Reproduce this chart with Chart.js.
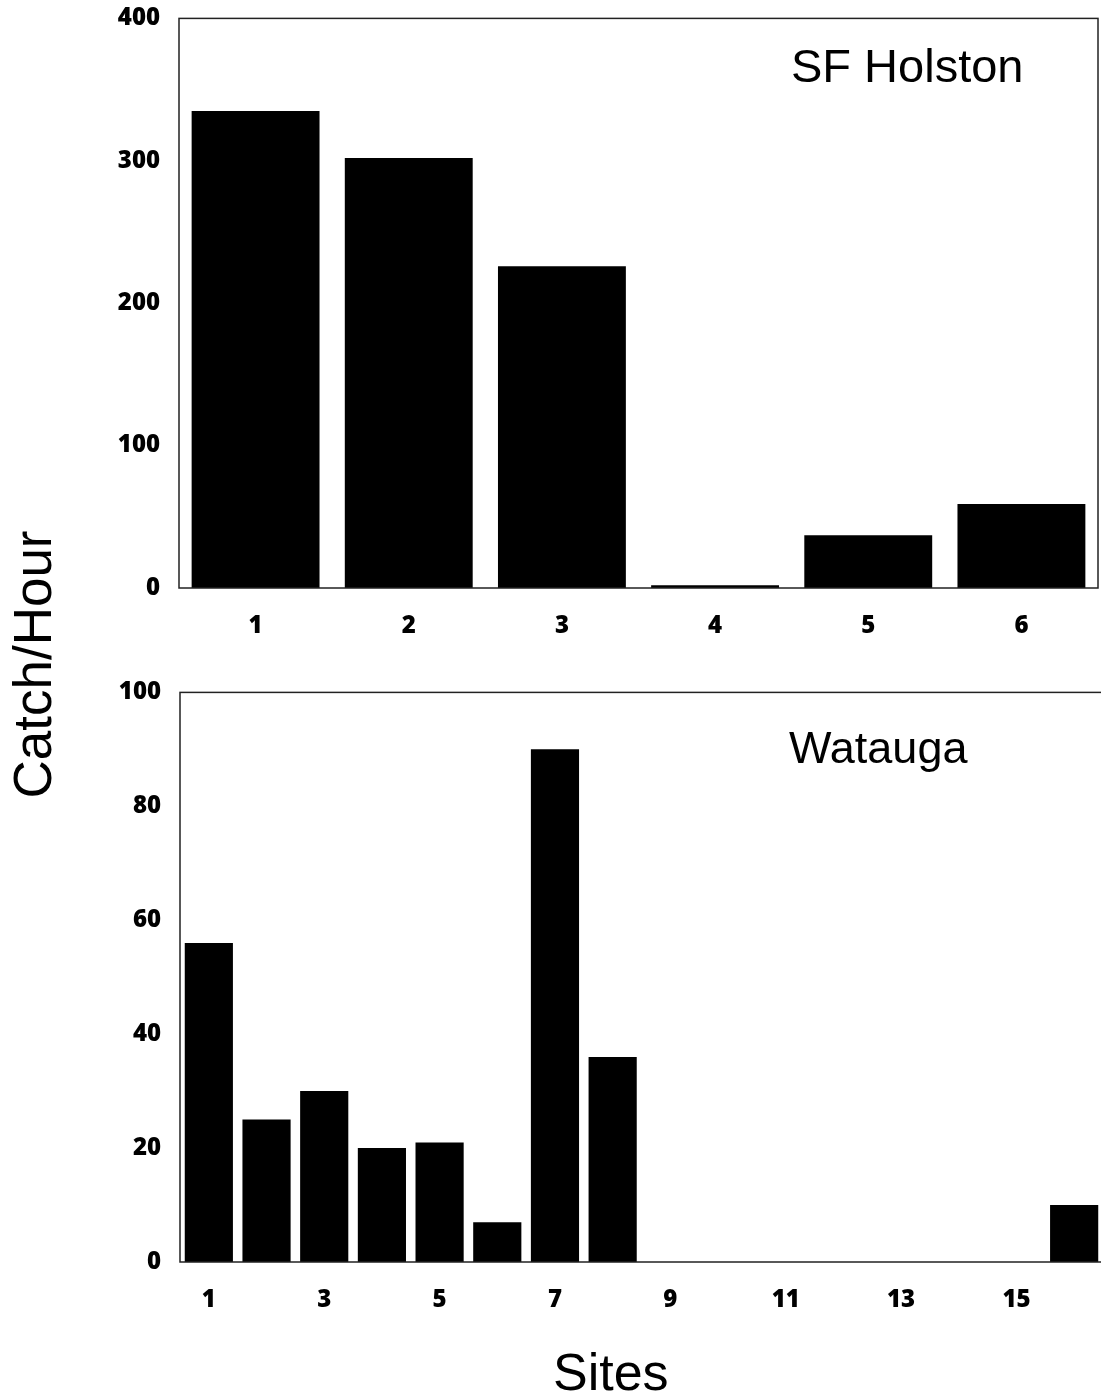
<!DOCTYPE html>
<html>
<head>
<meta charset="utf-8">
<script src="https://cdn.jsdelivr.net/npm/chart.js@4/dist/chart.umd.min.js"></script>
<style>
    html, body { margin: 0; padding: 0; background: #fff; overflow: hidden; }
    body { width: 1101px; height: 1399px; position: relative; }
    .box { position: absolute; }
    .label { position: absolute; font-family: "Liberation Sans", Arial, sans-serif; color: #000; line-height: 1; white-space: nowrap; }
</style>
</head>
<body>
<div class="box" style="left:100px; top:-15px; width:1001px; height:665px;"><canvas id="holstonChart"></canvas></div>
<div class="box" style="left:100px; top:659px; width:1010px; height:661px;"><canvas id="wataugaChart"></canvas></div>

<div class="label" style="left:791px; top:42px; font-size:47px;">SF Holston</div>
<div class="label" style="left:789px; top:725px; font-size:45px;">Watauga</div>
<div class="label" style="left:553px; top:1346px; font-size:52px;">Sites</div>
<div class="label" style="left:-118px; top:638px; width:300px; text-align:center; font-size:53px; transform:rotate(-90deg);">Catch/Hour</div>

<script>
// data
const holstonSites = ['1', '2', '3', '4', '5', '6'];
const holstonCatch = [335, 302, 226, 2, 37, 59];
const holstonMax = 400;
const holstonStep = 100;

const wataugaSites = ['1', '2', '3', '4', '5', '6', '7', '8', '9', '10', '11', '12', '13', '14', '15', '16'];
const wataugaCatch = [56, 25, 30, 20, 21, 7, 90, 36, 0, 0, 0, 0, 0, 0, 0, 10];
const wataugaMax = 100;
const wataugaStep = 20;

const tickFont = {family: '"Open Sans", Lato, sans-serif', size: 24, weight: '800'};

// box around the plot area (all four sides)
const frameBox = {
    id: 'frameBox',
    afterDatasetsDraw(chart) {
        const a = chart.chartArea;
        const ctx = chart.ctx;
        ctx.save();
        ctx.strokeStyle = '#222';
        ctx.lineWidth = 1.5;
        ctx.strokeRect(a.left, a.top, a.right - a.left, a.bottom - a.top);
        ctx.restore();
    }
};

function makeChart(id, labels, values, max, step, area, oddOnly) {
    const ctx = document.getElementById(id).getContext('2d');
    return new Chart(ctx, {
        type: 'bar',
        data: {
            labels: labels,
            datasets: [{
                data: values,
                backgroundColor: '#000',
                borderWidth: 0,
                categoryPercentage: 1,
                barPercentage: 0.835
            }]
        },
        options: {
            responsive: true,
            maintainAspectRatio: false,
            animation: false,
            layout: {padding: {top: area.top, right: area.right, left: 0, bottom: 0}},
            plugins: {legend: {display: false}, tooltip: {enabled: false}},
            scales: {
                x: {
                    grid: {display: false, drawTicks: false},
                    border: {display: false},
                    afterFit: (scale) => { scale.height = area.xHeight; },
                    ticks: {
                        color: '#000',
                        font: tickFont,
                        padding: 24,
                        autoSkip: false,
                        maxRotation: 0,
                        callback: function (value, index) {
                            const lab = this.getLabelForValue(value);
                            if (oddOnly && index % 2 === 1) return '';
                            return lab;
                        }
                    }
                },
                y: {
                    min: 0,
                    max: max,
                    grid: {display: false, drawTicks: false},
                    border: {display: false},
                    afterFit: (scale) => { scale.width = area.yWidth; },
                    ticks: {
                        color: '#000',
                        font: tickFont,
                        padding: 19,
                        stepSize: step
                    }
                }
            }
        },
        plugins: [frameBox]
    });
}

makeChart('holstonChart', holstonSites, holstonCatch, holstonMax, holstonStep,
    {top: 33, right: 3, xHeight: 62, yWidth: 79}, false);
makeChart('wataugaChart', wataugaSites, wataugaCatch, wataugaMax, wataugaStep,
    {top: 33, right: 7, xHeight: 58, yWidth: 80}, true);
</script>
</body>
</html>
